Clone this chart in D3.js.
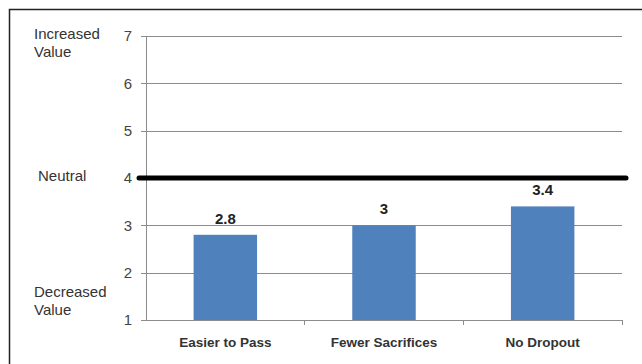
<!DOCTYPE html>
<html>
<head>
<meta charset="utf-8">
<script src="https://cdn.jsdelivr.net/npm/d3@7"></script>
<style>
  body { margin: 0; background: #fff; }
  svg text { font-family: "Liberation Sans", Arial, sans-serif; }
</style>
</head>
<body>
<div id="chart"></div>
<script>
// categories and values
const categories = ['Easier to Pass', 'Fewer Sacrifices', 'No Dropout'];
const values = [2.8, 3, 3.4];
const valueLabels = ['2.8', '3', '3.4'];
const yTicks = [1, 2, 3, 4, 5, 6, 7];
const neutralValue = 4;
const sideLabels = [
  {lines: ['Increased', 'Value'], value: 7},
  {lines: ['Neutral'], value: 4},
  {lines: ['Decreased', 'Value'], value: 1}
];

const W = 642, H = 364;
const margin = {top: 36, right: 20, bottom: 44, left: 146};

const svg = d3.select('#chart').append('svg')
  .attr('width', W)
  .attr('height', H);

// frame (top + left only visible)
svg.append('path')
  .attr('d', `M9.5,${H} V9.5 H${W}`)
  .attr('fill', 'none')
  .attr('stroke', '#222')
  .attr('stroke-width', 1.5);

const x = d3.scaleBand()
  .domain(categories)
  .range([margin.left, 622])
  .paddingInner(0.6)
  .paddingOuter(0.3);

const y = d3.scaleLinear()
  .domain([1, 7])
  .range([320, 36]);

// gridlines
svg.append('g')
  .selectAll('line')
  .data(yTicks)
  .join('line')
  .attr('x1', 141)
  .attr('x2', 622)
  .attr('y1', d => Math.round(y(d)) + 0.5)
  .attr('y2', d => Math.round(y(d)) + 0.5)
  .attr('stroke', '#8c8c8c')
  .attr('stroke-width', 1);

// y axis line
svg.append('line')
  .attr('x1', margin.left + 0.5).attr('x2', margin.left + 0.5)
  .attr('y1', y(7)).attr('y2', y(1))
  .attr('stroke', '#8c8c8c');

// x category ticks
const bounds = [margin.left, 304, 463, 622];
svg.append('g')
  .selectAll('line')
  .data(bounds.slice(1))
  .join('line')
  .attr('x1', d => d + 0.5).attr('x2', d => d + 0.5)
  .attr('y1', 320).attr('y2', 325)
  .attr('stroke', '#8c8c8c');

// y tick labels
svg.append('g')
  .selectAll('text')
  .data(yTicks)
  .join('text')
  .attr('x', 132)
  .attr('y', d => y(d))
  .attr('dy', '0.35em')
  .attr('text-anchor', 'end')
  .attr('font-size', 15)
  .attr('fill', '#444')
  .text(d => d);

// bars
svg.append('g')
  .selectAll('rect')
  .data(values)
  .join('rect')
  .attr('x', (d, i) => x(categories[i]))
  .attr('y', d => y(d))
  .attr('width', x.bandwidth())
  .attr('height', d => y(1) - y(d))
  .attr('fill', '#4f81bd');

// value labels
svg.append('g')
  .selectAll('text')
  .data(values)
  .join('text')
  .attr('x', (d, i) => x(categories[i]) + x.bandwidth() / 2)
  .attr('y', d => y(d) - 11)
  .attr('text-anchor', 'middle')
  .attr('font-size', 15)
  .attr('font-weight', 'bold')
  .attr('fill', '#222')
  .text((d, i) => valueLabels[i]);

// category labels
svg.append('g')
  .selectAll('text')
  .data(categories)
  .join('text')
  .attr('x', d => x(d) + x.bandwidth() / 2)
  .attr('y', 347)
  .attr('text-anchor', 'middle')
  .attr('font-size', 13.5)
  .attr('font-weight', 'bold')
  .attr('fill', '#333')
  .text(d => d);

// neutral line
svg.append('line')
  .attr('x1', 139).attr('x2', 626)
  .attr('y1', y(neutralValue)).attr('y2', y(neutralValue))
  .attr('stroke', '#000')
  .attr('stroke-width', 5)
  .attr('stroke-linecap', 'round');

// side annotations
const lh = 18;
const firstLineY = {7: y(7) - 2, 4: y(4) - 2, 1: y(1) - 28};
sideLabels.forEach(s => {
  const t = svg.append('text')
    .attr('font-size', 15)
    .attr('fill', '#333');
  s.lines.forEach((ln, i) => {
    t.append('tspan')
      .attr('x', s.value === 4 ? 38 : 34)
      .attr('y', firstLineY[s.value] + i * lh)
      .attr('dy', '0.35em')
      .text(ln);
  });
});
</script>
</body>
</html>
